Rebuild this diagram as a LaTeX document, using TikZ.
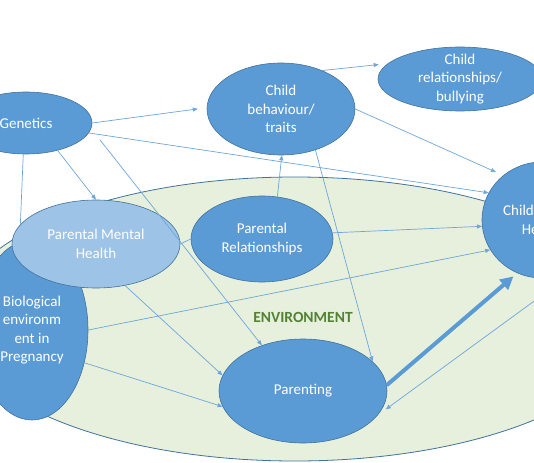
\documentclass[tikz,border=0pt]{standalone}
\usepackage{fontspec}
\setmainfont{Carlito}
\usepackage{xcolor}
\usetikzlibrary{arrows.meta,shapes.geometric}
\definecolor{bubblefill}{HTML}{5B9BD5}
\definecolor{bubbleline}{HTML}{41719C}
\definecolor{lightfill}{HTML}{9DC3E6}
\definecolor{envfill}{HTML}{E6F0DD}
\definecolor{envtext}{HTML}{548235}
\definecolor{linkcol}{HTML}{6EA6DA}

\begin{document}
\begin{tikzpicture}[
    x=1pt,y=-1pt,
    bubble/.style={ellipse, draw=bubbleline, line width=0.6pt, fill=bubblefill, text=white, inner sep=0pt, align=center, font=\fontsize{15}{18.5}\selectfont},
    lightbubble/.style={bubble, fill=lightfill},
    edge/.style={-{Triangle[length=5pt,width=4pt]}, draw=linkcol, line width=0.7pt},
    bigedge/.style={-{Triangle[length=13pt,width=13pt]}, draw=bubblefill, line width=4pt}
  ]
    \useasboundingbox (0,0) rectangle (534,462);
    \clip (0,0) rectangle (534,462);

    % environment
    \node[ellipse, draw=bubbleline, fill=envfill, line width=0.8pt, minimum width=680pt, minimum height=284pt] (env) at (295,319) {};
    \node[font=\fontsize{15.5}{18}\selectfont\bfseries, text=envtext] (envlabel) at (303,317) {ENVIRONMENT};

    \node[bubble, minimum width=132pt, minimum height=62pt] (gen) at (26,123) {Genetics};
    \node[bubble, minimum width=112pt, minimum height=180pt] (bio) at (32,330) {Biological\\environm\\ent in\\Pregnancy};
    \draw[edge] (gen.-95) -- (bio.98);
    \node[lightbubble, minimum width=168pt, minimum height=88pt] (pmh) at (96,244) {Parental Mental\\Health};
    \node[bubble, minimum width=148pt, minimum height=92pt] (cb) at (281,109) {Child\\behaviour/\\traits};
    \node[bubble, minimum width=164pt, minimum height=64pt, inner sep=-6pt] (cr) at (460,79) {Child\\relationships/\\bullying};
    \node[bubble, minimum width=120pt, minimum height=116pt] (ch) at (542,220) {Child Mental\\Health};
    \node[bubble, minimum width=142pt, minimum height=86pt] (pr) at (262,239) {Parental\\Relationships};
    \node[bubble, minimum width=168pt, minimum height=104pt] (par) at (303,391) {Parenting};
    \coordinate (offright) at (600,253);

    % links
    \draw[edge, shorten >=9pt] (gen.east) -- (cb.179);
    \draw[edge] (gen.-9) -- (ch.153);
    \draw[edge] (gen.-41) -- (pmh.north);
    \draw[edge, shorten <=14pt] (gen.-5) -- (par.132);
    \draw[edge] (pmh.-55) -- (par.169);
    \draw[draw=linkcol, line width=0.7pt] (pmh.east) -- (pr.west);
    \draw[edge] (pr.5) -- (ch.186);
    \draw[edge] (pr.70) -- (cb.-89);
    \draw[edge] (cb.-50) -- (par.23);
    \draw[edge, shorten >=9pt] (cb.43) -- (cr.168);
    \draw[edge, shorten >=8pt] (cb.east) -- (ch.131);
    \draw[edge] (bio.east) -- (ch.210);
    \draw[edge] (bio.-32) -- (par.191);
    \draw[bigedge, shorten >=5pt] (par.4) -- (ch.245);
    \draw[edge, shorten >=10pt] (offright) -- (par.-18);
  \end{tikzpicture}
\end{document}
